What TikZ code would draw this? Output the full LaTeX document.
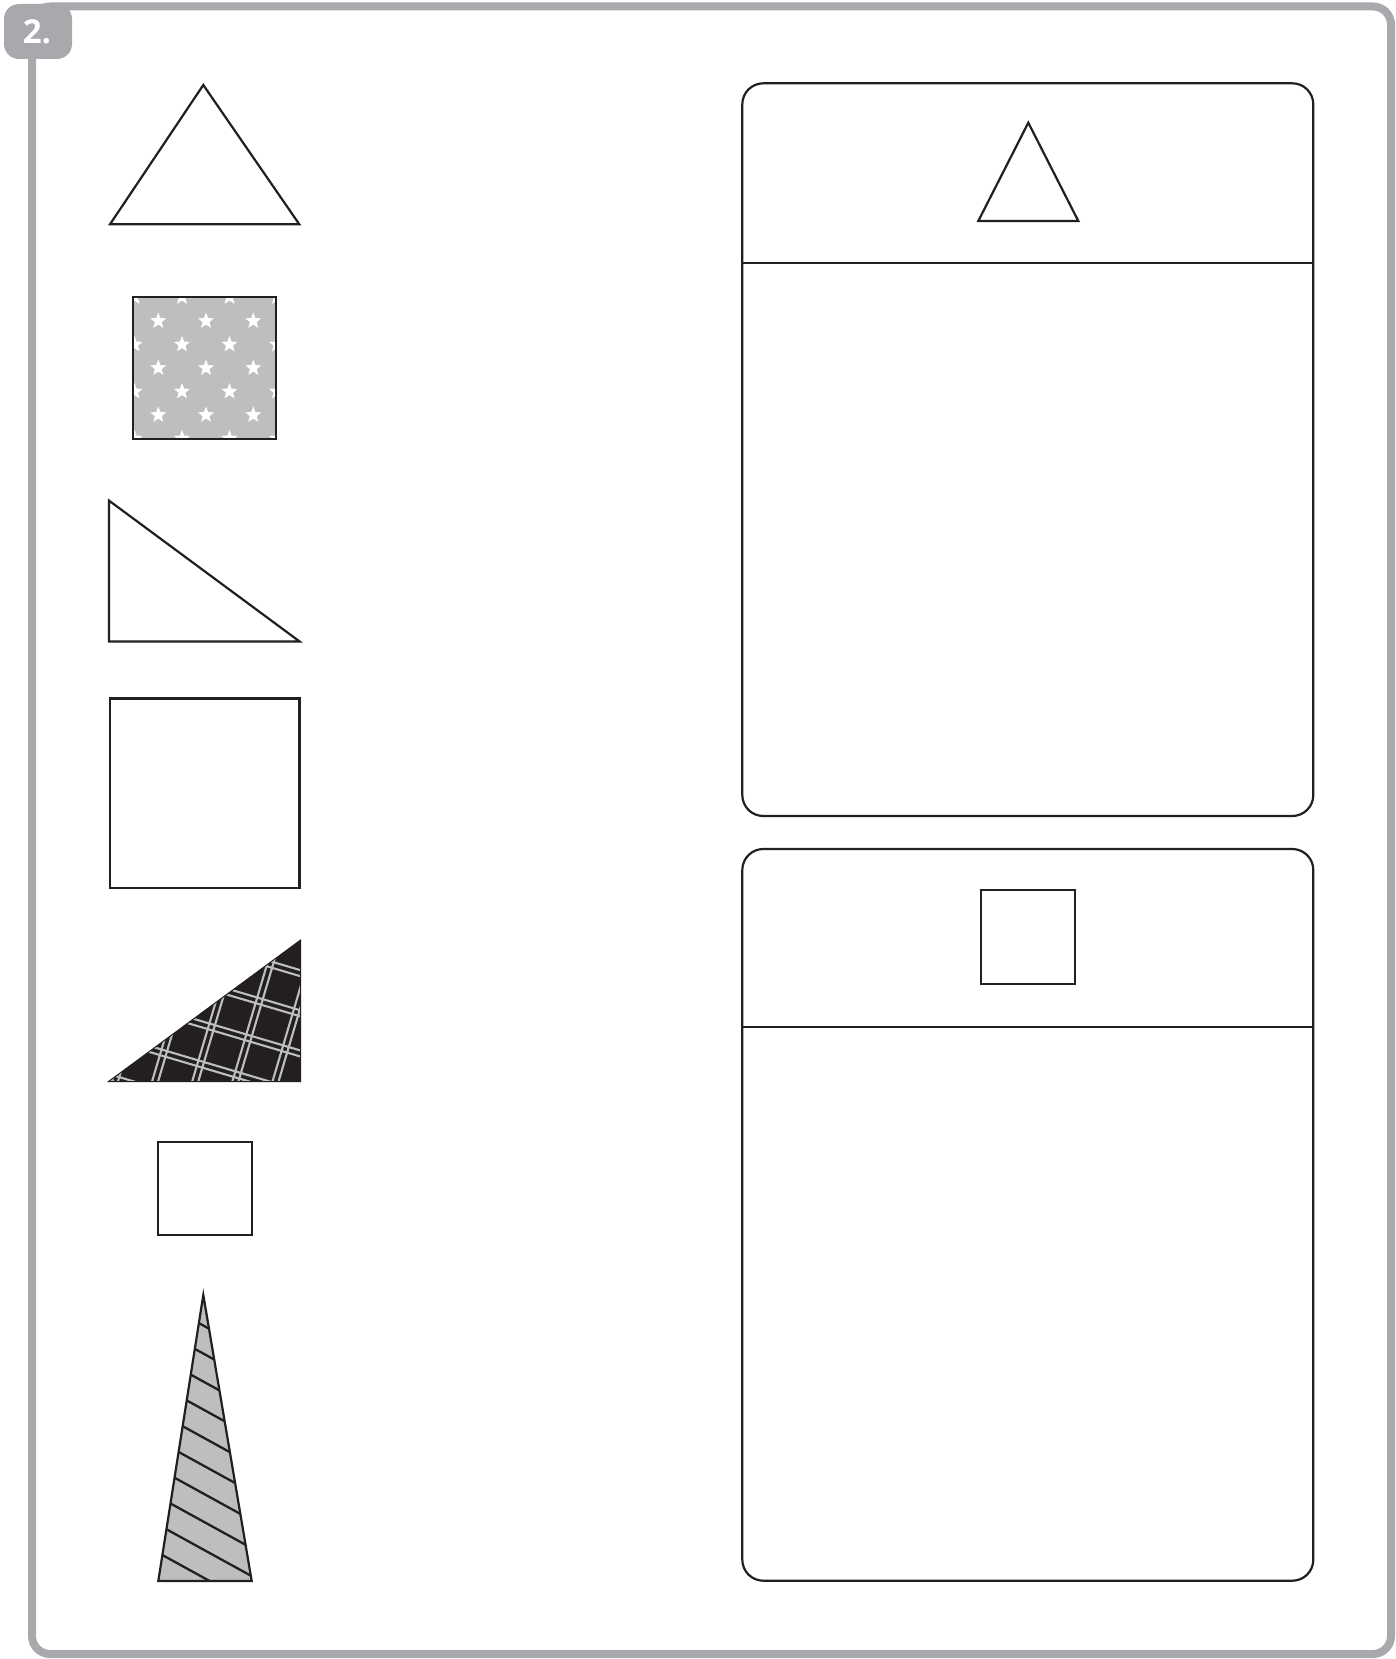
\documentclass[tikz,border=0pt]{standalone}
\usepackage{fontspec}
\setsansfont{Open Sans}
\definecolor{framegray}{HTML}{A7A9AC}
\definecolor{fillgray}{HTML}{BCBEC0}
\definecolor{inkblack}{HTML}{231F20}
\newcommand\wstar[2]{\fill[white, shift={(#1,#2)}] (90:8.5pt) -- (126:3.6pt) -- (162:8.5pt) -- (198:3.6pt) -- (234:8.5pt) -- (270:3.6pt) -- (306:8.5pt) -- (342:3.6pt) -- (18:8.5pt) -- (54:3.6pt) -- cycle;}
\tikzset{
  shapeline/.style={draw=inkblack, line width=2.2pt, line join=miter},
  panelbox/.style={draw=inkblack, line width=2.2pt, rounded corners=21pt},
  hatchline/.style={draw=fillgray, line width=2.1pt},
  stripeline/.style={draw=inkblack, line width=2.3pt}
}
\begin{document}
\begin{tikzpicture}[x=1pt,y=-1pt]
\useasboundingbox (0,0) rectangle (1396,1659);
\fill[white] (0,0) rectangle (1396,1659);
% outer frame and badge
\draw[framegray, line width=8pt, rounded corners=18pt] (32,6.5) rectangle (1391,1654);
\fill[framegray, rounded corners=15pt] (4,4) rectangle (72,59);
\node[text=white, font=\sffamily\bfseries\fontsize{33}{33}\selectfont, inner sep=0pt] (num) at (37,31.5) {2.};

% 1 triangle
\draw[shapeline] (203.3,85) -- (299.3,224.3) -- (110,224.3) -- cycle;

% 2 star square
\fill[fillgray] (133.3,296.7) rectangle (276,439.3);
\begin{scope}
\clip (133.3,296.7) rectangle (276,439.3);
\foreach \y in {321,368,415} \foreach \x in {158.3,206,253.3} {\wstar{\x}{\y}}
\foreach \y in {297,344.5,391.5,438.5} \foreach \x in {134.5,182,229.5,277} {\wstar{\x}{\y}}
\end{scope}
\draw[shapeline] (133.3,296.7) rectangle (276,439.3);

% 3 right triangle
\draw[shapeline] (109,500.6) -- (109,641.4) -- (299.5,641.4) -- cycle;

% 4 square
\draw[shapeline] (110,698.5) rectangle (299.5,888);

% 5 crosshatch triangle
\fill[inkblack] (108.3,1081.7) -- (300.6,940) -- (300.6,1081.7) -- cycle;
\begin{scope}
\clip (108.3,1081.7) -- (300.6,940) -- (300.6,1081.7) -- cycle;
\begin{scope}[shift={(300.6,1081.7)}, rotate=-16.5]
\foreach \k in {-8,...,8}{
  \draw[hatchline] (-320,{11.5+38.5*\k-2.9}) -- (120,{11.5+38.5*\k-2.9});
  \draw[hatchline] (-320,{11.5+38.5*\k+2.9}) -- (120,{11.5+38.5*\k+2.9});
  \draw[hatchline] ({14.4+38.5*\k-2.9},-320) -- ({14.4+38.5*\k-2.9},120);
  \draw[hatchline] ({14.4+38.5*\k+2.9},-320) -- ({14.4+38.5*\k+2.9},120);
}
\end{scope}
\end{scope}
\draw[draw=inkblack, line width=1pt] (108.3,1081.7) -- (300.6,940) -- (300.6,1081.7) -- cycle;

% 6 small square
\draw[shapeline] (157.7,1142) rectangle (251.9,1235.2);

% 7 striped tall triangle
\fill[fillgray] (203.3,1295) -- (251.7,1581) -- (158.3,1581) -- cycle;
\begin{scope}
\clip (203.3,1295) -- (251.7,1581) -- (158.3,1581) -- cycle;
\foreach \k in {0,...,9} \draw[stripeline] (150,{1325.9+28*\k-29.7}) -- (260,{1325.9+28*\k+30.8});
\end{scope}
\draw[shapeline] (203.3,1295) -- (251.7,1581) -- (158.3,1581) -- cycle;

% right panel 1
\draw[panelbox] (742.3,83.3) rectangle (1313.3,816);
\draw[shapeline] (742.3,262.7) -- (1313.3,262.7);
\draw[shapeline] (1028.3,122.7) -- (1078.3,221) -- (978.3,221) -- cycle;

% right panel 2
\draw[panelbox] (742.3,849) rectangle (1313.3,1580.7);
\draw[shapeline] (742.3,1026.7) -- (1313.3,1026.7);
\draw[shapeline] (981,890) rectangle (1075.3,984.3);
\end{tikzpicture}
\end{document}
